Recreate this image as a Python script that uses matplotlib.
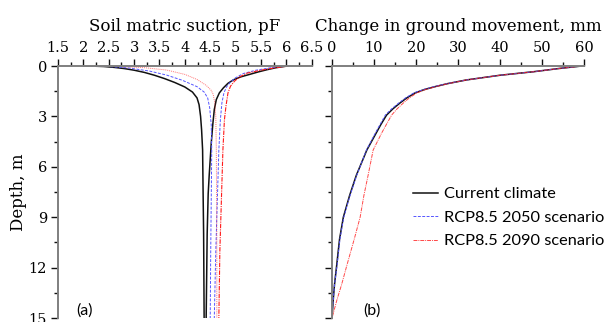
import matplotlib
matplotlib.use("Agg")
import matplotlib.pyplot as plt
from matplotlib.ticker import MultipleLocator

# (a) soil matric suction envelopes, pF vs depth (m)
depth_dry_cur = [0, 0.01, 0.03, 0.08, 0.15, 0.25, 0.38, 0.55, 0.75, 0.98, 1.25, 1.55, 1.9,
                 2.3, 3.0, 3.8, 5.0, 7.6, 10.0, 15.0]
suct_dry_cur = [2.0, 2.2, 2.4, 2.6, 2.8, 3.0, 3.2, 3.4, 3.6, 3.8, 4.0, 4.15, 4.24,
                4.28, 4.31, 4.33, 4.35, 4.36, 4.37, 4.38]
depth_wet_cur = [0, 0.1, 0.22, 0.35, 0.48, 0.65, 0.82, 1.03, 1.3, 1.6, 2.0, 2.6, 3.5,
                 4.6, 6.5, 7.6, 10.0, 15.0]
suct_wet_cur = [6.02, 5.8, 5.62, 5.45, 5.3, 5.1, 4.96, 4.85, 4.76, 4.68, 4.62, 4.58, 4.55,
                4.52, 4.48, 4.46, 4.44, 4.42]

depth_dry_50 = [0, 0.03, 0.12, 0.3, 0.54, 0.85, 1.23, 1.55, 1.9, 2.5, 3.5, 5.0, 8.0, 11.0, 15.0]
suct_dry_50 = [2.1, 2.5, 2.9, 3.3, 3.64, 3.95, 4.24, 4.38, 4.45, 4.49, 4.52, 4.53, 4.52, 4.51, 4.5]
depth_wet_50 = [0, 0.1, 0.25, 0.45, 0.7, 0.95, 1.25, 1.6, 2.2, 3.2, 5.0, 8.0, 11.0, 15.0]
suct_wet_50 = [6.04, 5.7, 5.4, 5.15, 5.0, 4.9, 4.82, 4.77, 4.73, 4.7, 4.67, 4.64, 4.61, 4.58]

depth_dry_90 = [0, 0.03, 0.1, 0.24, 0.5, 0.8, 1.15, 1.45, 1.7, 2.2, 3.0, 5.0, 10.0, 15.0]
suct_dry_90 = [2.2, 2.7, 3.2, 3.64, 4.0, 4.24, 4.42, 4.52, 4.56, 4.59, 4.61, 4.62, 4.63, 4.63]
depth_wet_90 = [0, 0.12, 0.25, 0.43, 0.65, 0.9, 1.2, 1.6, 2.4, 3.2, 5.0, 8.0, 11.0, 15.0]
suct_wet_90 = [6.05, 5.75, 5.5, 5.22, 5.08, 4.98, 4.9, 4.85, 4.81, 4.78, 4.75, 4.72, 4.69, 4.67]

# (b) change in ground movement (mm) vs depth (m)
depth_mov = [0, 0.15, 0.34, 0.55, 0.83, 1.05, 1.23, 1.4, 1.6, 1.9, 2.2, 2.55, 2.92, 3.5,
             4.0, 5.0, 6.5, 7.7, 9.0, 10.3, 11.9, 13.0, 13.9, 15.0]
mov_cur = [59.5, 54, 48, 40, 32, 27.5, 24.5, 22, 19.8, 17.8, 16.2, 14.5, 13.0, 11.6,
           10.5, 8.3, 5.8, 4.2, 2.7, 1.8, 1.1, 0.6, 0.3, 0]
mov_50 = [59.5, 54, 48, 40, 32, 27.4, 24.3, 21.8, 19.5, 17.5, 15.9, 14.2, 12.7, 11.4,
          10.3, 8.2, 5.9, 4.3, 2.8, 1.9, 1.2, 0.6, 0.3, 0]
mov_90 = [59.5, 54, 48, 40, 32, 27.6, 24.7, 22.3, 20.2, 18.4, 17.0, 15.5, 14.2, 12.9,
          11.8, 9.8, 8.6, 7.6, 6.7, 5.3, 3.5, 2.3, 1.2, 0]

labels = ["Current climate", "RCP8.5 2050 scenario", "RCP8.5 2090 scenario"]

black = "#111111"
blue = "#5555ff"
red = "#ff1a1a"
spine_col = "#7f7f7f"
serif = "DejaVu Serif"
sans = "Lato"

fig = plt.figure(figsize=(6.04, 3.22), dpi=100)
axa = fig.add_axes([58 / 604, 4 / 322, 253.7 / 604, 252 / 322])
axb = fig.add_axes([332 / 604, 4 / 322, 252 / 604, 252 / 322])


def style_axes(ax):
    for side in ["right", "bottom"]:
        ax.spines[side].set_visible(False)
    for side in ["top", "left"]:
        ax.spines[side].set_color(spine_col)
        ax.spines[side].set_linewidth(1.4)
    ax.xaxis.tick_top()
    ax.xaxis.set_label_position("top")
    ax.set_ylim(15, 0)
    ax.yaxis.set_major_locator(MultipleLocator(3))
    ax.yaxis.set_minor_locator(MultipleLocator(1.5))
    ax.tick_params(which="major", direction="out", length=5, width=1, color=black,
                   labelsize=10.5, pad=3)
    ax.tick_params(which="minor", direction="out", length=3, width=1, color=black)
    for t in ax.get_xticklabels() + ax.get_yticklabels():
        t.set_fontfamily(serif)


# panel (a)
lw = 1.1
axa.plot(suct_dry_cur, depth_dry_cur, color=black, lw=lw, label=labels[0])
axa.plot(suct_wet_cur, depth_wet_cur, color=black, lw=lw)
axa.plot(suct_dry_50, depth_dry_50, color=blue, lw=0.7, ls=(0, (3, 1.5)), label=labels[1])
axa.plot(suct_wet_50, depth_wet_50, color=blue, lw=0.7, ls=(0, (3, 1.5)))
axa.plot(suct_dry_90, depth_dry_90, color=red, lw=0.7, ls=(0, (1, 1)), alpha=0.6)
axa.plot(suct_wet_90, depth_wet_90, color=red, lw=0.8, ls=(0, (4, 1, 1, 1)), label=labels[2])
axa.set_xlim(1.5, 6.5)
axa.xaxis.set_minor_locator(MultipleLocator(0.25))
axa.set_xticks([1.5, 2, 2.5, 3, 3.5, 4, 4.5, 5, 5.5, 6, 6.5],
               ["1.5", "2", "2.5", "3", "3.5", "4", "4.5", "5", "5.5", "6", "6.5"])
style_axes(axa)
axa.set_xlabel("Soil matric suction, pF", family=serif, fontsize=12, labelpad=7)
axa.set_ylabel("Depth, m", family=serif, fontsize=12, labelpad=1)
axa.text(0.07, 0.0, "(a)", transform=axa.transAxes, family=sans, fontsize=11.5, va="bottom")

# panel (b)
axb.plot(mov_cur, depth_mov, color=black, lw=lw, label=labels[0])
axb.plot(mov_50, depth_mov, color=blue, lw=0.7, ls=(0, (3, 1.5)), label=labels[1])
axb.plot(mov_90, depth_mov, color=red, lw=0.7, ls=(0, (4, 1, 1, 1)), alpha=0.8, label=labels[2])
axb.set_xlim(0, 60)
axb.xaxis.set_major_locator(MultipleLocator(10))
axb.xaxis.set_minor_locator(MultipleLocator(5))
style_axes(axb)
axb.tick_params(axis="y", labelleft=False)
axb.set_xlabel("Change in ground movement, mm", family=serif, fontsize=12, labelpad=7)
axb.text(0.125, 0.0, "(b)", transform=axb.transAxes, family=sans, fontsize=11.5, va="bottom")

axb.legend(loc="upper left", bbox_to_anchor=(413 / 604, 1 - 187 / 322),
           bbox_transform=fig.transFigure, frameon=False, borderpad=0, borderaxespad=0,
           handlelength=1.5, handletextpad=0.4, labelspacing=0.55,
           prop={"family": sans, "size": 11.8})

fig.savefig("out.png", dpi=100)
